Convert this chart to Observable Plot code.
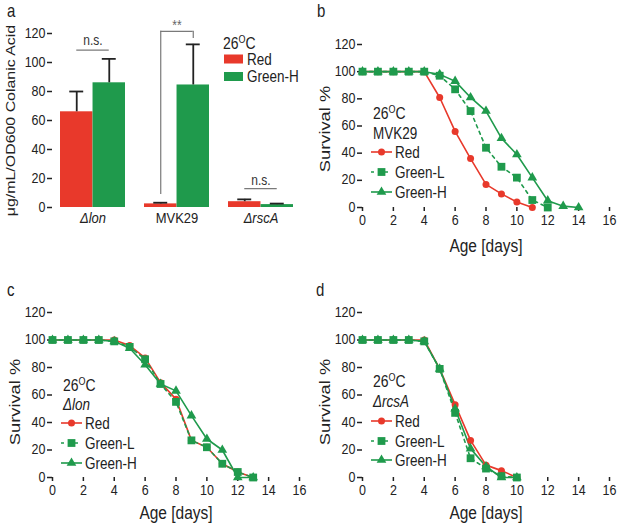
<!DOCTYPE html>
<html><head><meta charset="utf-8">
<script src="https://cdn.jsdelivr.net/npm/d3@7"></script>
<script src="https://cdn.jsdelivr.net/npm/@observablehq/plot@0.6"></script>
<style>
body{margin:0;background:#fff;}
#fig{position:relative;width:617px;height:524px;font-family:"Liberation Sans",Arial,sans-serif;color:#222;overflow:hidden;}
.panel{position:absolute;}
.panel svg{overflow:visible;}
.letter{position:absolute;font-size:15px;line-height:1;transform:scaleY(1.18);transform-origin:0 0;}
.overlay{position:absolute;left:0;top:0;pointer-events:none;overflow:visible;fill:#222;}
</style></head><body><div id="fig"></div>
<script>
// ---------- data ----------
const RED = "#e8392b", GREEN = "#1f9a4c";
const strains = ["Δlon", "MVK29", "ΔrscA"];
const caRed = [66, 2.5, 4];
const caRedErr = [14, 0.8, 1.6];
const caGreen = [86, 84.5, 2];
const caGreenErr = [16.5, 28, 0.7];
const sigLabels = ["n.s.", "**", "n.s."];
const sigLineY = [108.5, 121.5, 13];
const sigTextY = [114.5, 125, 18.5];
const bracketLeftLow = [null, 9, null];
const bracketRightLow = [null, 116.5, null];

const seriesNames = ["Red", "Green-L", "Green-H"];
const legendA = ["Red", "Green-H"];
const xTicks = [0, 2, 4, 6, 8, 10, 12, 14, 16];
const yTicks = [0, 20, 40, 60, 80, 100, 120];

// survival (%) by day, starting at day 0
const mvkRed    = [100,100,100,100,100,81,56,36,17,10,4,0];
const mvkGreenL = [100,100,100,100,100,97,87,71,44,30,22,5.5,0];
const mvkGreenH = [100,100,100,100,100,98,93,81,71,51,39,22,5,1,0];

const lonRed    = [100,100,100,100,100,96,87,69,57,27,22,10,4,0];
const lonGreenL = [100,100,100,100,99,95,86,68,55,27,22,10,4,0];
const lonGreenH = [100,100,100,100,99,94,82,68,63,45,28,20,0,0];

const rcsRed    = [100,100,100,100,100,79,53,27,9,5,0];
const rcsGreenL = [100,100,100,100,99,79,47,14,6.5,1,0];
const rcsGreenH = [100,100,100,100,99,79,50,21,8,0,0];

// ---------- helpers ----------
const fig = document.getElementById("fig");
const FONT = "Liberation Sans, Arial, sans-serif";
const SY = 1.18; // the reference's lettering is taller than it is wide
function stretchText(root) {
  root.querySelectorAll("text").forEach(el => {
    const x = el.x.baseVal.numberOfItems ? el.x.baseVal.getItem(0).value : 0;
    const y = el.y.baseVal.numberOfItems ? el.y.baseVal.getItem(0).value : 0;
    const old = el.getAttribute("transform") || "";
    let ax = x, ay = y;
    const tl = el.transform.baseVal;
    if (tl.numberOfItems) {
      const m = tl.consolidate().matrix;
      ax = m.a * x + m.c * y + m.e; ay = m.b * x + m.d * y + m.f;
    }
    el.setAttribute("transform", `translate(${ax},${ay}) scale(1,${SY}) translate(${-ax},${-ay}) ${old}`);
  });
}
function addPanel(node, left, top) {
  const d = document.createElement("div");
  d.className = "panel"; d.style.left = left + "px"; d.style.top = top + "px";
  d.appendChild(node); fig.appendChild(d); return d;
}
function addLetter(t, left, top) {
  const d = document.createElement("div");
  d.className = "letter"; d.textContent = t;
  d.style.left = left + "px"; d.style.top = top + "px"; fig.appendChild(d);
}
function titleText(svg, x, y) {
  const t = svg.append("text").attr("x", x).attr("y", y).attr("dy", "0.35em").attr("font-size", 14);
  t.append("tspan").text("26");
  t.append("tspan").attr("font-size", 9).attr("dy", "-0.55em").text("O");
  t.append("tspan").attr("dy", "0.35em").text("C");
}

// ---------- panel a ----------
(function () {
  const W = 310, H = 240, ML = 52, MR = 3, MT = 33, MB = 33;
  const pI = 0.23, pO = 0.124;
  const step = (W - ML - MR) / (strains.length - pI + 2 * pO);
  const bw = step * (1 - pI);
  const rows = strains.map((s, i) => ({
    strain: s, red: caRed[i], redTop: caRed[i] + caRedErr[i],
    green: caGreen[i], greenTop: caGreen[i] + caGreenErr[i],
    sig: sigLabels[i], sigY: sigLineY[i], sigTY: sigTextY[i],
    lLow: bracketLeftLow[i], rLow: bracketRightLow[i]
  }));
  const brk = rows.filter(d => d.lLow != null);
  const errStroke = "#222", sigStroke = "#7a7a7a";
  const p = Plot.plot({
    width: W, height: H, marginLeft: ML, marginRight: MR, marginTop: MT, marginBottom: MB,
    style: {fontFamily: FONT, fontSize: "12px", color: "#222", background: "transparent", overflow: "visible"},
    x: {type: "band", domain: strains, paddingInner: pI, paddingOuter: pO, align: 0.36},
    y: {domain: [0, 120]},
    marks: [
      Plot.barY(rows, {x: "strain", y: "red", fill: RED, insetRight: bw / 2}),
      Plot.barY(rows, {x: "strain", y: "green", fill: GREEN, insetLeft: bw / 2}),
      Plot.ruleX(rows, {x: "strain", y1: "red", y2: "redTop", dx: -bw / 4, stroke: errStroke, strokeWidth: 1.8}),
      Plot.tickY(rows, {x: "strain", y: "redTop", insetLeft: bw / 4 - 7, insetRight: 3 * bw / 4 - 7, stroke: errStroke, strokeWidth: 1.8}),
      Plot.ruleX(rows, {x: "strain", y1: "green", y2: "greenTop", dx: bw / 4, stroke: errStroke, strokeWidth: 1.8}),
      Plot.tickY(rows, {x: "strain", y: "greenTop", insetLeft: 3 * bw / 4 - 7, insetRight: bw / 4 - 7, stroke: errStroke, strokeWidth: 1.8}),
      Plot.tickY(rows, {x: "strain", y: "sigY", insetLeft: bw / 4, insetRight: bw / 4, stroke: sigStroke, strokeWidth: 1.2}),
      Plot.ruleX(brk, {x: "strain", y1: "lLow", y2: "sigY", dx: -bw / 4, stroke: sigStroke, strokeWidth: 1.2}),
      Plot.ruleX(brk, {x: "strain", y1: "rLow", y2: "sigY", dx: bw / 4, stroke: sigStroke, strokeWidth: 1.2}),
      Plot.text(rows, {x: "strain", y: "sigTY", text: "sig", fontSize: 12, fill: d => d.sig === "**" ? "#666" : "#333"}),
      Plot.axisY({ticks: yTicks, tickSize: 5, tickPadding: 2, line: true, label: null, strokeWidth: 1.5, fontSize: 12.5}),
      Plot.axisX({tickSize: 0, tickPadding: 6, line: true, label: null, strokeWidth: 1.5, fontSize: 13}),
      Plot.text(["μg/mL/OD600 Colanic Acid"], {frameAnchor: "left", dx: -42, rotate: -90, textAnchor: "middle", lineAnchor: "middle", fontSize: 13.5})
    ]
  });
  d3.select(p).selectAll("text").filter(function () {
    const t = this.textContent; return t === "Δlon" || t === "ΔrscA";
  }).style("font-style", "italic");
  const panel = addPanel(p, 0, 0);
  const svg = d3.select(panel).append("svg").attr("class", "overlay")
    .attr("width", W).attr("height", H).style("font-family", FONT);
  titleText(svg, 223, 43);
  [RED, GREEN].forEach((c, k) => {
    const cy = [59, 76.5][k];
    svg.append("rect").attr("x", 224).attr("y", cy - 4.5).attr("width", 19).attr("height", 9).attr("fill", c);
    svg.append("text").attr("x", 247).attr("y", cy).attr("dy", "0.35em").attr("font-size", 13.5).text(legendA[k]);
  });
  stretchText(p); stretchText(svg.node());
})();

// ---------- survival panels ----------
function survival(vals, o) {
  const rows = [];
  seriesNames.forEach((s, k) => vals[k].forEach((v, i) => rows.push({series: s, day: i, value: v})));
  const sel = s => rows.filter(d => d.series === s);
  const p = Plot.plot({
    width: o.W, height: o.H, marginLeft: 52, marginRight: o.MR, marginTop: o.MT, marginBottom: o.MB,
    style: {fontFamily: FONT, fontSize: "12px", color: "#222", background: "transparent", overflow: "visible"},
    x: {domain: [0, 16]},
    y: {domain: [0, 120]},
    marks: [
      Plot.axisX({ticks: xTicks, tickSize: 4, tickPadding: 4.5, line: true, label: null, strokeWidth: 1.5, fontSize: 12.5}),
      Plot.axisY({ticks: yTicks, tickSize: 5, tickPadding: 2, line: true, label: null, strokeWidth: 1.5, fontSize: 12.5}),
      Plot.text(["Age [days]"], {frameAnchor: "bottom", dy: o.ageDy, textAnchor: "middle", lineAnchor: "middle", fontSize: 15.5}),
      Plot.text(["Survival %"], {frameAnchor: "left", dx: -37, dy: o.survDy, rotate: -90, textAnchor: "middle", lineAnchor: "middle", fontSize: 15.5}),
      Plot.line(sel("Red"), {x: "day", y: "value", stroke: RED, strokeWidth: 1.6}),
      Plot.line(sel("Green-H"), {x: "day", y: "value", stroke: GREEN, strokeWidth: 1.6}),
      Plot.line(sel("Green-L"), {x: "day", y: "value", stroke: GREEN, strokeWidth: 1.6, strokeDasharray: "3,4"}),
      Plot.dot(sel("Red"), {x: "day", y: "value", r: 3.5, fill: RED, symbol: "circle"}),
      Plot.dot(sel("Green-H"), {x: "day", y: "value", r: 3.6, fill: GREEN, symbol: "triangle"}),
      Plot.dot(sel("Green-L"), {x: "day", y: "value", r: 4.4, fill: GREEN, symbol: "square"})
    ]
  });
  const panel = addPanel(p, o.left, o.top);
  const svg = d3.select(panel).append("svg").attr("class", "overlay")
    .attr("width", o.W).attr("height", o.H).style("font-family", FONT);
  const L = o.leg;
  titleText(svg, 63, L[0]);
  svg.append("text").attr("x", 63).attr("y", L[1]).attr("dy", "0.35em").attr("font-size", 13.5)
    .style("font-style", o.italic ? "italic" : "normal").text(o.strain);
  const cols = [RED, GREEN, GREEN];
  const syms = [d3.symbol(d3.symbolCircle, Math.PI * 3.5 * 3.5), d3.symbol(d3.symbolSquare, Math.PI * 4.4 * 4.4), d3.symbol(d3.symbolTriangle, Math.PI * 3.6 * 3.6)];
  seriesNames.forEach((s, k) => {
    const y = L[2 + k];
    svg.append("line").attr("x1", 61).attr("x2", 82).attr("y1", y).attr("y2", y)
      .attr("stroke", cols[k]).attr("stroke-width", 1.6).attr("stroke-dasharray", k === 1 ? "3,4" : null);
    svg.append("path").attr("d", syms[k]()).attr("transform", `translate(71.5,${y})`).attr("fill", cols[k]);
    svg.append("text").attr("x", 85).attr("y", y).attr("dy", "0.35em").attr("font-size", 13.5).text(s);
  });
  stretchText(p); stretchText(svg.node());
}

survival([mvkRed, mvkGreenL, mvkGreenH], {left: 310, top: 0, W: 307, H: 262, MR: 8, MT: 44, MB: 55,
  ageDy: 40, survDy: 3, strain: "MVK29", italic: false, leg: [113, 133, 152, 172, 192]});
survival([lonRed, lonGreenL, lonGreenH], {left: 0, top: 270, W: 310, H: 254, MR: 11, MT: 42, MB: 47,
  ageDy: 37, survDy: 7, strain: "Δlon", italic: true, leg: [115, 134, 153, 173, 193]});
survival([rcsRed, rcsGreenL, rcsGreenH], {left: 310, top: 270, W: 307, H: 254, MR: 8, MT: 42, MB: 47,
  ageDy: 37, survDy: 7, strain: "ΔrcsA", italic: true, leg: [111, 131, 151, 171, 190]});

addLetter("a", 7, 2);
addLetter("b", 317, 2);
addLetter("c", 7, 281);
addLetter("d", 316, 281);
</script></body></html>
